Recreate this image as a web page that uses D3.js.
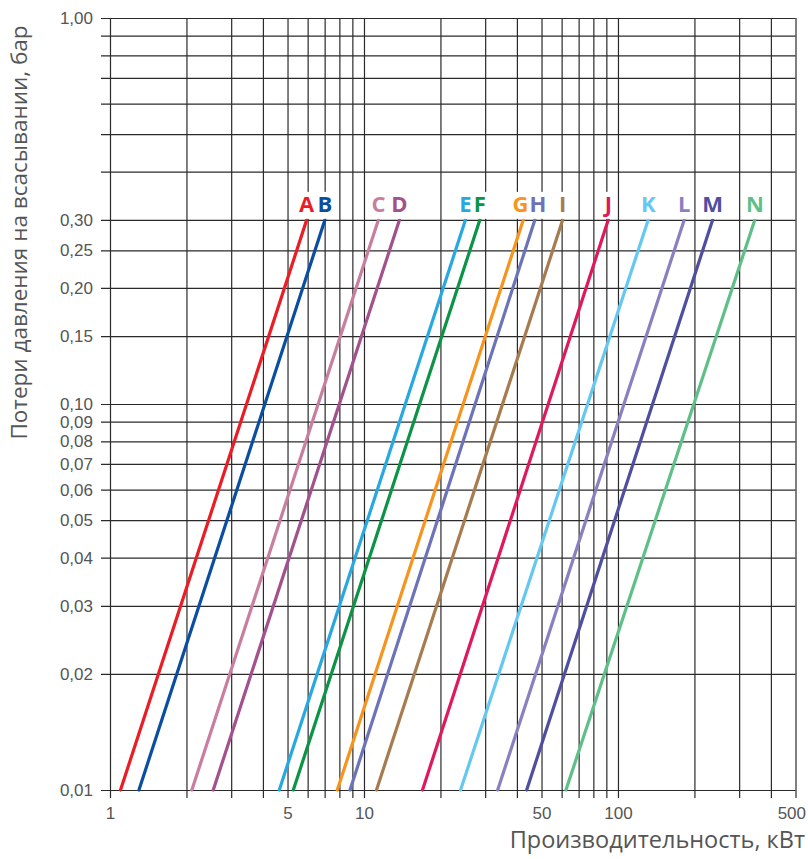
<!DOCTYPE html>
<html><head><meta charset="utf-8">
<script src="https://cdn.jsdelivr.net/npm/d3@7"></script>
<style>
html,body{margin:0;padding:0;background:#fff;}
svg{display:block;font-family:"Open Sans",sans-serif;}
</style></head>
<body><svg id="c" width="808" height="859"></svg>
<script>
const names = ["A","B","C","D","E","F","G","H","I","J","K","L","M","N"];
const colors = ["#ec1c24","#0a4ea2","#c97d9f","#a2508e","#28a8e0","#0b9446","#f7941d","#6d73b8","#a87b4f","#e01a5a","#64c8f1","#8c7fbf","#4f4e9f","#5ebf88"];
const powerAt001 = [1.10,1.30,2.10,2.55,4.64,5.27,7.85,8.81,11.2,17.0,24.0,33.6,43.7,62.4];
const powerAt030 = [5.95,7.02,11.4,13.8,25.1,28.6,42.4,47.1,60.6,91.6,131.6,182.4,236,346];
const lossLow = 0.01, lossHigh = 0.30;
const xGrid = [1,2,3,4,5,6,7,8,9,10,20,30,40,50,60,70,80,90,100,200,300,400,500];
const xLabels = [1,5,10,50,100,500];
const yGrid = [0.01,0.02,0.03,0.04,0.05,0.06,0.07,0.08,0.09,0.10,0.15,0.20,0.25,0.30,0.4,0.5,0.6,0.7,0.8,0.9,1.0];
const yLabels = [0.01,0.02,0.03,0.04,0.05,0.06,0.07,0.08,0.09,0.10,0.15,0.20,0.25,0.30,1.0];
const xTitle = "Производительность, кВт";
const yTitle = "Потери давления на всасывании, бар";

const svg = d3.select("#c");
const L = 110, R = 795.5, T = 18, B = 790;
const x = d3.scaleLog().domain([1,500]).range([L,R]);
const y = d3.scaleLog().domain([0.01,1]).range([B,T]);
const fmtY = v => yLabels.some(l => Math.abs(l-v)<1e-9) ? v.toFixed(2).replace(".",",") : "";
const fmtX = v => xLabels.includes(v) ? String(v) : "";

const gx = svg.append("g").attr("transform",`translate(0,${T})`)
  .call(d3.axisBottom(x).tickValues(xGrid).tickSize(B-T+8).tickPadding(9).tickFormat(fmtX));
gx.select(".domain").remove();
gx.selectAll(".tick line").attr("stroke","#2a2a2a").attr("stroke-width",1.2);
gx.selectAll(".tick text").attr("fill","#555").attr("font-size",17).attr("dy","0.71em");
gx.selectAll(".tick text").filter(d=>!xLabels.includes(d)).remove();
gx.selectAll(".tick text").filter(d=>d===500).attr("text-anchor","end").attr("dx",10);

const gy = svg.append("g").attr("transform",`translate(${R},0)`)
  .call(d3.axisLeft(y).tickValues(yGrid).tickSize(R-L+9).tickPadding(8).tickFormat(fmtY));
gy.select(".domain").remove();
gy.selectAll(".tick line").attr("stroke","#2a2a2a").attr("stroke-width",1.2);
gy.selectAll(".tick text").attr("fill","#555").attr("font-size",17);
gy.selectAll(".tick text").filter(function(){ return this.textContent===""; }).remove();

const line = d3.line().x(d=>x(d[0])).y(d=>y(d[1]));
const series = names.map((n,i)=>({name:n,color:colors[i],pts:[[powerAt001[i],lossLow],[powerAt030[i],lossHigh]]}));
svg.append("g").selectAll("path").data(series).join("path")
  .attr("d",d=>line(d.pts)).attr("stroke",d=>d.color).attr("stroke-width",3.2)
  .attr("fill","none").attr("stroke-linecap","round");

// labels: placed at line tops, nudged apart where letters would collide
const lab = svg.append("g").attr("font-size",22).attr("font-weight",700).attr("text-anchor","middle");
const labY = y(lossHigh) - 8;
const items = series.map(d=>({d, cx:x(d.pts[1][0])}));
const tmp = lab.selectAll("text.m").data(items).join("text").attr("class","m").text(o=>o.d.name);
tmp.each(function(o){ o.w = this.getComputedTextLength(); });
tmp.remove();
for (let i=1;i<items.length;i++){
  const a=items[i-1], b=items[i], gap=(a.w+b.w)/2+1 - (b.cx-a.cx);
  if (gap>0){ a.cx-=gap/2; b.cx+=gap/2; }
}
lab.selectAll("rect").data(items).join("rect")
  .attr("x",o=>o.cx-o.w/2-3).attr("y",labY-20).attr("width",o=>o.w+6).attr("height",y(lossHigh)-1-(labY-20))
  .attr("fill","#fff");
lab.selectAll("text").data(items).join("text")
  .attr("x",o=>o.cx).attr("y",labY).attr("fill",o=>o.d.color).text(o=>o.d.name);

svg.append("text").attr("x",805).attr("y",848).attr("text-anchor","end")
  .attr("font-size",23.5).attr("fill","#555").text(xTitle);
svg.append("text").attr("transform",`translate(27,${(25+440)/2}) rotate(-90)`)
  .attr("text-anchor","middle").attr("font-size",22.5).attr("fill","#555").text(yTitle);
</script></body></html>
